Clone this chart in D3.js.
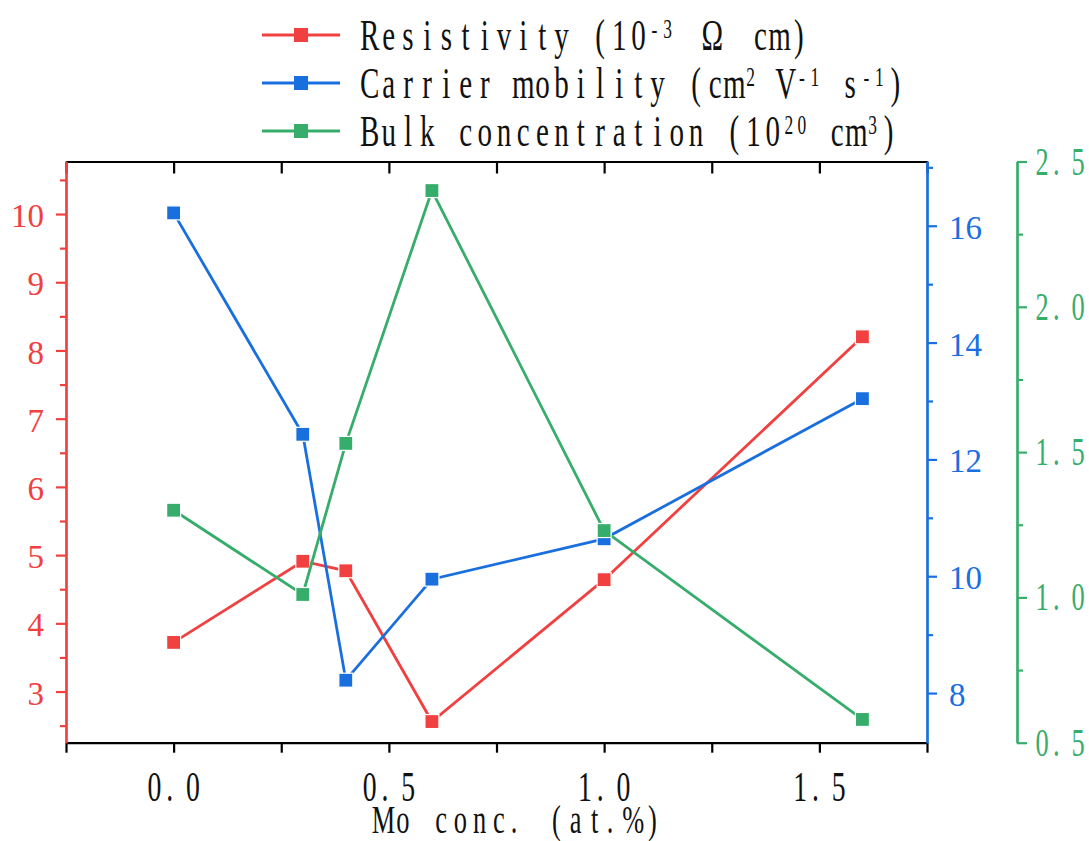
<!DOCTYPE html>
<html>
<head>
<meta charset="utf-8">
<script src="https://cdn.jsdelivr.net/npm/d3@7"></script>
<style>
  body { margin: 0; background: #fff; }
  svg { display: block; }
</style>
</head>
<body>
<div id="chart"></div>
<script>
// Data
const moConc = [0, 0.3, 0.4, 0.6, 1.0, 1.6];
const resistivity = [3.72, 4.91, 4.77, 2.56, 4.64, 8.2];
const mobility = [16.22, 12.43, 8.22, 9.95, 10.64, 13.04];
const concentration = [1.30, 1.01, 1.53, 2.40, 1.23, 0.58];

const xTicks = [0, 0.5, 1.0, 1.5];
const xMinor = [-0.25, 0.25, 0.75, 1.25, 1.75];
const redTicks = [3, 4, 5, 6, 7, 8, 9, 10];
const redMinor = [2.5, 3.5, 4.5, 5.5, 6.5, 7.5, 8.5, 9.5, 10.5];
const blueTicks = [8, 10, 12, 14, 16];
const blueMinor = [9, 11, 13, 15, 17];
const greenTicks = [0.5, 1.0, 1.5, 2.0, 2.5];
const greenMinor = [0.75, 1.25, 1.75, 2.25];

const colors = { red: '#F14040', blue: '#1A6FDF', green: '#37AD6B' };
const SERIF = '"Liberation Serif", "DejaVu Serif", serif';

const width = 1089, height = 841;
const plot = { left: 66, right: 927, top: 161.5, bottom: 742.7 };
const greenX = 1017;

const svg = d3.select('#chart').append('svg')
  .attr('width', width)
  .attr('height', height);

// Scales
const x = d3.scaleLinear().domain([-0.25, 1.75]).range([plot.left, plot.right]);
const yRed = d3.scaleLinear().domain([2.25, 10.77]).range([plot.bottom, plot.top]);
const yBlue = d3.scaleLinear().domain([7.15, 17.1]).range([plot.bottom, plot.top]);
const yGreen = d3.scaleLinear().domain([0.5, 2.5]).range([plot.bottom, plot.top]);

function styleAxis(g, color) {
  g.selectAll('path.domain').attr('stroke', color).attr('stroke-width', 2.2);
  g.selectAll('line').attr('stroke', color).attr('stroke-width', 2.2);
}

// Fixed-pitch serif text (the figure uses a SimSun-like font), one tspan per glyph
function monoText(parent, o) {
  const sx = o.sx || 0.66;
  const adv = o.adv || 19.2;
  const supAdv = o.supAdv || 13;
  const fill = o.fill || '#111';
  const cells = [];
  let cursor = 0;
  o.parts.forEach(([str, sup]) => {
    Array.from(str).forEach(ch => {
      const w = sup ? supAdv : (ch === '\u03A9' ? adv * 2 : adv);
      cells.push({ ch, sup, left: cursor, w });
      cursor += w;
    });
  });
  const offset = o.anchor === 'middle' ? -cursor / 2 : 0;
  const t = parent.append('text')
    .attr('transform', `translate(${o.x + offset},${o.y}) scale(${sx},1)`)
    .attr('font-family', SERIF)
    .attr('font-size', o.size)
    .attr('text-anchor', 'middle')
    .attr('fill', fill);
  cells.filter(c => c.ch !== ' ').forEach(c => {
    const cx = c.ch === '.' ? c.left + c.w * 0.3 : c.left + c.w / 2;
    t.append('tspan')
      .attr('x', cx / sx)
      .attr('y', c.sup ? -o.size * 0.27 : 0)
      .attr('font-size', c.sup ? o.size * 0.6 : o.size)
      .text(c.ch);
  });
  return t;
}

// Bottom axis (ticks out) + top axis (ticks in)
const bottomAx = svg.append('g')
  .attr('transform', `translate(0,${plot.bottom})`)
  .call(d3.axisBottom(x).tickValues(xTicks.concat(xMinor)).tickSize(10).tickSizeOuter(0).tickFormat(''));
styleAxis(bottomAx, '#000');

const topAx = svg.append('g')
  .attr('transform', `translate(0,${plot.top})`)
  .call(d3.axisBottom(x).tickValues(xTicks.concat(xMinor)).tickSize(12).tickSizeOuter(0).tickFormat(''));
styleAxis(topAx, '#000');

xTicks.forEach(v => {
  monoText(svg, { x: x(v), y: 801, anchor: 'middle', size: 42, parts: [[d3.format('.1f')(v), 0]] });
});

monoText(svg, { x: 518, y: 833, anchor: 'middle', size: 40, parts: [['Mo conc. (at.%)', 0]] });

// Left red axis
const redMinorAx = svg.append('g')
  .attr('transform', `translate(${plot.left},0)`)
  .call(d3.axisLeft(yRed).tickValues(redMinor).tickSize(6).tickSizeOuter(0).tickFormat(''));
styleAxis(redMinorAx, colors.red);
const redAx = svg.append('g')
  .attr('transform', `translate(${plot.left},0)`)
  .call(d3.axisLeft(yRed).tickValues(redTicks).tickSize(10).tickSizeOuter(0).tickPadding(12));
styleAxis(redAx, colors.red);
redAx.selectAll('text')
  .attr('fill', colors.red)
  .attr('font-family', SERIF)
  .attr('font-size', 33)
  .attr('dy', '0.38em');

// Right blue axis
const blueMinorAx = svg.append('g')
  .attr('transform', `translate(${plot.right},0)`)
  .call(d3.axisRight(yBlue).tickValues(blueMinor).tickSize(6).tickSizeOuter(0).tickFormat(''));
styleAxis(blueMinorAx, colors.blue);
const blueAx = svg.append('g')
  .attr('transform', `translate(${plot.right},0)`)
  .call(d3.axisRight(yBlue).tickValues(blueTicks).tickSize(10).tickSizeOuter(0).tickPadding(12));
styleAxis(blueAx, colors.blue);
blueAx.selectAll('text')
  .attr('fill', colors.blue)
  .attr('font-family', SERIF)
  .attr('font-size', 33)
  .attr('dy', '0.38em');

// Offset green axis
const greenMinorAx = svg.append('g')
  .attr('transform', `translate(${greenX},0)`)
  .call(d3.axisRight(yGreen).tickValues(greenMinor).tickSize(6).tickSizeOuter(0).tickFormat(''));
styleAxis(greenMinorAx, colors.green);
const greenAx = svg.append('g')
  .attr('transform', `translate(${greenX},0)`)
  .call(d3.axisRight(yGreen).tickValues(greenTicks).tickSize(10).tickSizeOuter(0).tickFormat(''));
styleAxis(greenAx, colors.green);
greenTicks.forEach(v => {
  monoText(svg, {
    x: greenX + 16, y: yGreen(v) + 13, size: 40, adv: 18, fill: colors.green,
    parts: [[d3.format('.1f')(v), 0]]
  });
});

// Series
const series = [
  { key: 'red', values: resistivity, y: yRed },
  { key: 'blue', values: mobility, y: yBlue },
  { key: 'green', values: concentration, y: yGreen }
];

const mk = 14;
series.forEach(s => {
  const pts = moConc.map((c, i) => ({ c, v: s.values[i] }));
  const line = d3.line().x(d => x(d.c)).y(d => s.y(d.v));
  svg.append('path')
    .datum(pts)
    .attr('fill', 'none')
    .attr('stroke', colors[s.key])
    .attr('stroke-width', 2.8)
    .attr('d', line);
  svg.selectAll(`.pt-${s.key}`)
    .data(pts)
    .enter()
    .append('rect')
    .attr('class', `pt-${s.key}`)
    .attr('x', d => x(d.c) - mk / 2)
    .attr('y', d => s.y(d.v) - mk / 2)
    .attr('width', mk)
    .attr('height', mk)
    .attr('fill', colors[s.key])
    .attr('stroke', '#fff')
    .attr('stroke-width', 1.2);
});

// Legend
const legendRows = [
  { key: 'red', parts: [['Resistivity (10', 0], ['-3', 1], [' \u03A9 cm)', 0]] },
  { key: 'blue', parts: [['Carrier mobility (cm', 0], ['2', 1], [' V', 0], ['-1', 1], [' s', 0], ['-1', 1], [')', 0]] },
  { key: 'green', parts: [['Bulk concentration (10', 0], ['20', 1], [' cm', 0], ['3', 1], [')', 0]] }
];

legendRows.forEach((row, i) => {
  const cy = 35 + i * 48;
  const g = svg.append('g');
  g.append('line')
    .attr('x1', 262).attr('x2', 340)
    .attr('y1', cy).attr('y2', cy)
    .attr('stroke', colors[row.key])
    .attr('stroke-width', 2.8);
  g.append('rect')
    .attr('x', 301 - mk / 2).attr('y', cy - mk / 2)
    .attr('width', mk).attr('height', mk)
    .attr('fill', colors[row.key]);
  monoText(g, { x: 360, y: cy + 15, size: 44, parts: row.parts });
});
</script>
</body>
</html>
